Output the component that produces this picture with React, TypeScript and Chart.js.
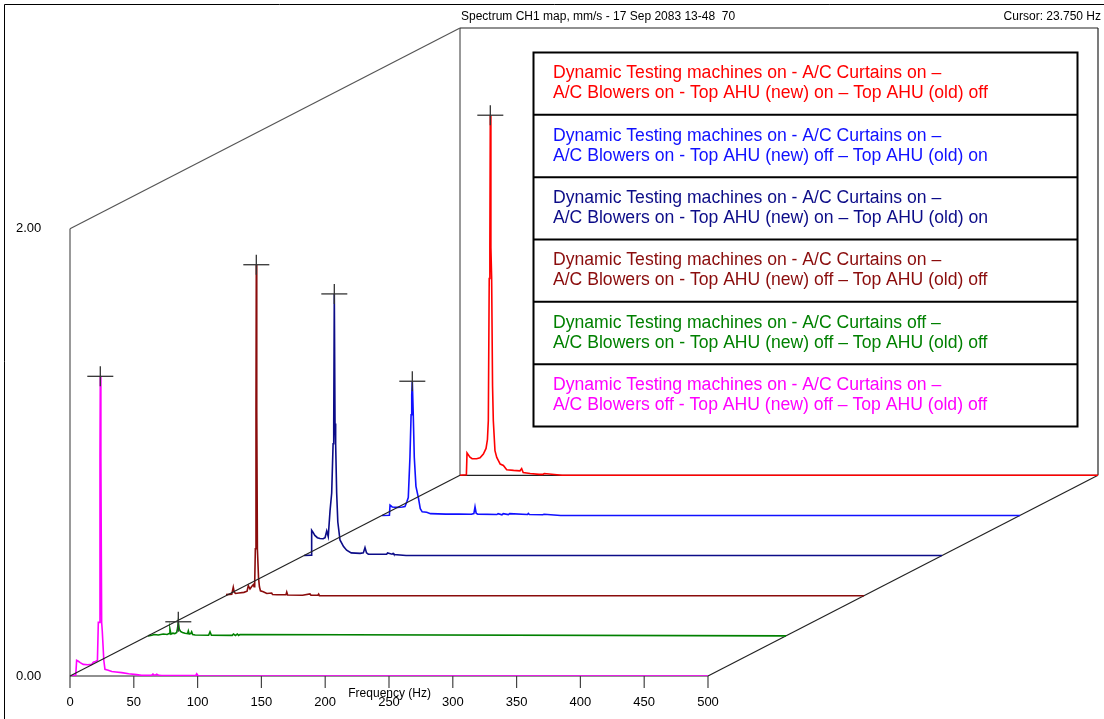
import React, { useEffect, useRef } from "react";
import { Chart, registerables } from "chart.js";

Chart.register(...registerables);

// ---------- data ----------
const TITLE = "Spectrum CH1 map, mm/s - 17 Sep 2083 13-48  70";
const CURSOR_TEXT = "Cursor: 23.750 Hz";
const X_TITLE = "Frequency (Hz)";

const FREQ_TICKS = [0, 50, 100, 150, 200, 250, 300, 350, 400, 450, 500];
const AMP_TICKS = [0, 2];
const AMP_TICK_LABELS = ["0.00", "2.00"];

const FREQ_MAX = 500;
const AMP_MAX = 2;
const DEPTH_STEPS = 5;
const DEPTH_HZ = 61.13;
const DEPTH_AMP = 0.1795;

const SERIES_NAMES = ["red", "blue", "navy", "brown", "green", "magenta"];
const SERIES_COLORS = ["#ff0000", "#1010ff", "#0c0c88", "#8a0c0c", "#008000", "#ff00ff"];
const SERIES_DEPTH = [5, 4, 3, 2, 1, 0];
const SERIES_LINE1 = [
  "Dynamic Testing machines on - A/C Curtains on –",
  "Dynamic Testing machines on - A/C Curtains on –",
  "Dynamic Testing machines on - A/C Curtains on –",
  "Dynamic Testing machines on - A/C Curtains on –",
  "Dynamic Testing machines on - A/C Curtains off –",
  "Dynamic Testing machines on - A/C Curtains on –",
];
const SERIES_LINE2 = [
  "A/C Blowers on - Top AHU (new) on – Top AHU (old) off",
  "A/C Blowers on - Top AHU (new) off – Top AHU (old) on",
  "A/C Blowers on - Top AHU (new) on – Top AHU (old) on",
  "A/C Blowers on - Top AHU (new) off – Top AHU (old) off",
  "A/C Blowers on - Top AHU (new) off – Top AHU (old) off",
  "A/C Blowers off - Top AHU (new) off – Top AHU (old) off",
];

const RED_HZ = [0, 5, 5.5, 7.8, 9.5, 13, 15.7, 18.3, 20.4, 21.5, 22.2, 22.9, 23.4, 23.75, 24.2, 24.8, 25.5, 26.1, 27.4, 28.8, 30, 31.5, 34, 36.6, 42, 47, 48.3, 49.5, 55, 62, 65, 66, 80, 500];
const RED_AMP = [0, 0.002, 0.1, 0.081, 0.074, 0.074, 0.078, 0.095, 0.12, 0.16, 0.245, 0.88, 1.02, 1.61, 1.02, 0.88, 0.4, 0.245, 0.11, 0.08, 0.067, 0.05, 0.044, 0.025, 0.022, 0.02, 0.03, 0.012, 0.008, 0.004, 0.004, 0.008, 0, 0];

const BLUE_HZ = [0, 5.8, 6.3, 8, 12, 16, 18, 19.4, 20.6, 21.9, 22.8, 23.3, 23.75, 24.5, 25.3, 26.6, 28.5, 30, 31.5, 35, 38, 50, 60, 70, 72, 72.9, 73.8, 75, 90, 91, 94, 95, 99, 100, 114, 114.7, 115.5, 126, 127, 140, 500];
const BLUE_AMP = [0, 0.001, 0.046, 0.038, 0.036, 0.038, 0.04, 0.06, 0.08, 0.26, 0.45, 0.54, 0.6, 0.45, 0.26, 0.13, 0.08, 0.03, 0.016, 0.014, 0.008, 0.006, 0.006, 0.005, 0.008, 0.038, 0.01, 0.006, 0.004, 0.008, 0.003, 0.008, 0.004, 0.008, 0.004, 0.009, 0.004, 0.003, 0.005, 0, 0];

const NAVY_HZ = [0, 5.5, 6, 7, 8.5, 10.5, 12.5, 15, 16.5, 17.8, 19, 20.4, 21.7, 22.8, 23.3, 23.75, 24.3, 24.8, 25.6, 26.5, 28.2, 31, 33.4, 37, 44, 46.5, 47.8, 49, 50.4, 64.8, 65.5, 69, 69.8, 70.5, 80, 500];
const NAVY_AMP = [0, 0.002, 0.113, 0.105, 0.09, 0.08, 0.076, 0.075, 0.08, 0.11, 0.085, 0.2, 0.28, 0.5, 0.59, 1.17, 0.59, 0.5, 0.28, 0.15, 0.07, 0.04, 0.024, 0.012, 0.01, 0.012, 0.036, 0.012, 0.006, 0.006, 0.012, 0.006, 0.01, 0.005, 0, 0];

const BROWN_HZ = [0, 4.5, 5.7, 6.5, 7.5, 10, 14, 16.5, 17.5, 18.8, 20, 21.4, 22, 22.5, 23, 23.5, 23.75, 24.1, 24.6, 25.5, 26.2, 27, 29.2, 32, 35.8, 36.5, 40, 47, 47.6, 48.3, 60, 65.8, 66.6, 72, 72.6, 73.2, 500];
const BROWN_AMP = [0.005, 0.007, 0.038, 0.015, 0.01, 0.012, 0.015, 0.02, 0.045, 0.03, 0.04, 0.05, 0.04, 0.06, 0.21, 0.83, 1.48, 0.83, 0.21, 0.08, 0.04, 0.022, 0.018, 0.01, 0.012, 0.005, 0.004, 0.004, 0.016, 0.003, 0.002, 0.008, 0.002, 0.002, 0.007, 0, 0];

const GREEN_HZ = [0, 3, 5, 8, 12, 15, 16.5, 17.2, 18, 19.5, 21, 22.5, 23.2, 23.75, 24.5, 25.5, 27, 29, 31, 31.6, 32.3, 33.5, 34.2, 35, 37, 47.5, 48.6, 49.7, 66, 67, 68.5, 70, 71, 72, 500];
const GREEN_AMP = [0, 0.003, 0.006, 0.004, 0.008, 0.006, 0.01, 0.03, 0.008, 0.012, 0.01, 0.015, 0.035, 0.063, 0.03, 0.02, 0.015, 0.012, 0.01, 0.022, 0.008, 0.01, 0.018, 0.006, 0.004, 0.003, 0.018, 0.003, 0.002, 0.008, 0.002, 0.008, 0.002, 0.006, 0];

const MAGENTA_HZ = [0, 4.5, 5.2, 6.5, 8, 10.4, 14, 17, 18.3, 20, 21.5, 22.2, 23, 23.5, 23.75, 24.2, 24.8, 25.3, 26.5, 27.4, 30, 32.7, 36, 40.5, 46, 52.2, 56, 64, 65, 66.5, 68, 69.5, 72, 98.5, 99.3, 100.2, 102, 500];
const MAGENTA_AMP = [0, 0.004, 0.07, 0.066, 0.06, 0.052, 0.05, 0.052, 0.062, 0.065, 0.07, 0.24, 0.24, 0.98, 1.34, 0.98, 0.24, 0.2, 0.07, 0.03, 0.026, 0.02, 0.018, 0.015, 0.01, 0.006, 0.003, 0.003, 0.009, 0.003, 0.008, 0.003, 0.002, 0.002, 0.01, 0.002, 0, 0];

const SERIES_HZ = [RED_HZ, BLUE_HZ, NAVY_HZ, BROWN_HZ, GREEN_HZ, MAGENTA_HZ];
const SERIES_AMP = [RED_AMP, BLUE_AMP, NAVY_AMP, BROWN_AMP, GREEN_AMP, MAGENTA_AMP];

const FONT = "'Liberation Sans', Arial, sans-serif";

function project(chart: any, f: number, a: number, d: number): [number, number] {
  const xs = chart.scales.x;
  const ys = chart.scales.y;
  return [xs.getPixelForValue(f + d * DEPTH_HZ), ys.getPixelForValue(a + d * DEPTH_AMP)];
}

function line(ctx: CanvasRenderingContext2D, a: [number, number], b: [number, number]) {
  ctx.beginPath();
  ctx.moveTo(a[0], a[1]);
  ctx.lineTo(b[0], b[1]);
  ctx.stroke();
}

const framePlugin = {
  id: "waterfallFrame",
  beforeDatasetsDraw(chart: any) {
    const ctx: CanvasRenderingContext2D = chart.ctx;
    const P = (f: number, a: number, d: number) => project(chart, f, a, d);
    ctx.save();
    // outer frame of the window
    ctx.strokeStyle = "#000";
    ctx.lineWidth = 1;
    ctx.beginPath();
    ctx.moveTo(4.5, chart.height);
    ctx.lineTo(4.5, 4.5);
    ctx.lineTo(chart.width, 4.5);
    ctx.stroke();

    // header texts
    ctx.fillStyle = "#000";
    ctx.font = `12px ${FONT}`;
    ctx.textBaseline = "middle";
    ctx.textAlign = "left";
    const [bx] = P(0, AMP_MAX, DEPTH_STEPS);
    ctx.fillText(TITLE, bx + 1, 17);
    ctx.textAlign = "right";
    ctx.fillText(CURSOR_TEXT, chart.width - 3, 17);

    // box
    ctx.strokeStyle = "#555";
    ctx.lineWidth = 1.2;
    line(ctx, P(0, 0, 0), P(0, AMP_MAX, 0));
    line(ctx, P(0, AMP_MAX, 0), P(0, AMP_MAX, DEPTH_STEPS));
    line(ctx, P(0, AMP_MAX, DEPTH_STEPS), P(0, 0, DEPTH_STEPS));
    ctx.strokeStyle = "#222";
    line(ctx, P(0, AMP_MAX, DEPTH_STEPS), P(FREQ_MAX, AMP_MAX, DEPTH_STEPS));
    line(ctx, P(FREQ_MAX, AMP_MAX, DEPTH_STEPS), P(FREQ_MAX, 0, DEPTH_STEPS));
    line(ctx, P(0, 0, DEPTH_STEPS), P(FREQ_MAX, 0, DEPTH_STEPS));
    line(ctx, P(0, 0, 0), P(FREQ_MAX, 0, 0));
    line(ctx, P(FREQ_MAX, 0, 0), P(FREQ_MAX, 0, DEPTH_STEPS));

    // x ticks
    ctx.strokeStyle = "#444";
    ctx.fillStyle = "#000";
    ctx.textAlign = "center";
    ctx.textBaseline = "top";
    ctx.font = `13px ${FONT}`;
    FREQ_TICKS.forEach((t) => {
      const [x, y] = P(t, 0, 0);
      line(ctx, [x, y], [x, y + 12]);
      ctx.fillText(String(t), x, y + 20);
    });
    // y tick labels
    ctx.textAlign = "left";
    ctx.textBaseline = "middle";
    AMP_TICKS.forEach((t, i) => {
      const [, y] = P(0, t, 0);
      ctx.fillText(AMP_TICK_LABELS[i], 16, y);
    });
    // x title
    ctx.font = `12px ${FONT}`;
    ctx.textAlign = "center";
    const [x0] = P(0, 0, 0);
    const [x1, yb] = P(FREQ_MAX, 0, 0);
    ctx.fillText(X_TITLE, x0 + (x1 - x0) * 0.501, yb + 18);
    ctx.restore();
  },
  afterDatasetsDraw(chart: any) {
    const ctx: CanvasRenderingContext2D = chart.ctx;
    const P = (f: number, a: number, d: number) => project(chart, f, a, d);
    ctx.save();
    // floor diagonal
    ctx.strokeStyle = "#222";
    ctx.lineWidth = 1.2;
    line(ctx, P(0, 0, 0), P(0, 0, DEPTH_STEPS));

    // cursors at peak of each spectrum
    ctx.strokeStyle = "#333";
    ctx.lineWidth = 1.3;
    SERIES_AMP.forEach((amps, s) => {
      let k = 0;
      amps.forEach((v, i) => {
        if (v > amps[k]) k = i;
      });
      const [x, y] = P(SERIES_HZ[s][k], amps[k], SERIES_DEPTH[s]);
      line(ctx, [x - 13, y], [x + 13, y]);
      line(ctx, [x, y - 10], [x, y + 10]);
    });

    // legend box
    const left = 533.5, top = 52.5, right = 1077.5, bottom = 426.5;
    const rowH = (bottom - top) / SERIES_NAMES.length;
    ctx.fillStyle = "#fff";
    ctx.fillRect(left, top, right - left, bottom - top);
    ctx.strokeStyle = "#000";
    ctx.lineWidth = 2;
    ctx.strokeRect(left, top, right - left, bottom - top);
    ctx.font = `17.6px ${FONT}`;
    ctx.textAlign = "left";
    ctx.textBaseline = "middle";
    SERIES_NAMES.forEach((_, i) => {
      const ry = top + rowH * i;
      if (i > 0) line(ctx, [left, ry], [right, ry]);
      ctx.fillStyle = SERIES_COLORS[i];
      ctx.fillText(SERIES_LINE1[i], 553, ry + 21);
      ctx.fillText(SERIES_LINE2[i], 553, ry + 41);
    });
    ctx.restore();
  },
};

export default function App() {
  const canvasRef = useRef<HTMLCanvasElement | null>(null);

  useEffect(() => {
    const canvas = canvasRef.current;
    if (!canvas) return;
    const datasets = SERIES_NAMES.map((name, s) => ({
      label: name,
      data: SERIES_HZ[s].map((f, i) => ({
        x: f + SERIES_DEPTH[s] * DEPTH_HZ,
        y: SERIES_AMP[s][i] + SERIES_DEPTH[s] * DEPTH_AMP,
      })),
      borderColor: SERIES_COLORS[s],
      backgroundColor: SERIES_COLORS[s],
      borderWidth: 1.6,
      pointRadius: 0,
      tension: 0,
      fill: false,
      order: SERIES_DEPTH[s],
    }));
    const chart = new Chart(canvas, {
      type: "line",
      data: { datasets },
      options: {
        animation: false,
        responsive: false,
        devicePixelRatio: 1,
        events: [],
        layout: { padding: { left: 70, right: 6, top: 28, bottom: 43 } },
        scales: {
          x: { type: "linear", display: false, min: 0, max: FREQ_MAX + DEPTH_STEPS * DEPTH_HZ },
          y: { type: "linear", display: false, min: 0, max: AMP_MAX + DEPTH_STEPS * DEPTH_AMP },
        },
        plugins: { legend: { display: false }, tooltip: { enabled: false } },
      },
      plugins: [framePlugin],
    } as any);
    return () => chart.destroy();
  }, []);

  return (
    <div style={{ position: "fixed", left: 0, top: 0, width: 1104, height: 719, background: "#fff" }}>
      <canvas ref={canvasRef} width={1104} height={719} style={{ display: "block" }} />
    </div>
  );
}
